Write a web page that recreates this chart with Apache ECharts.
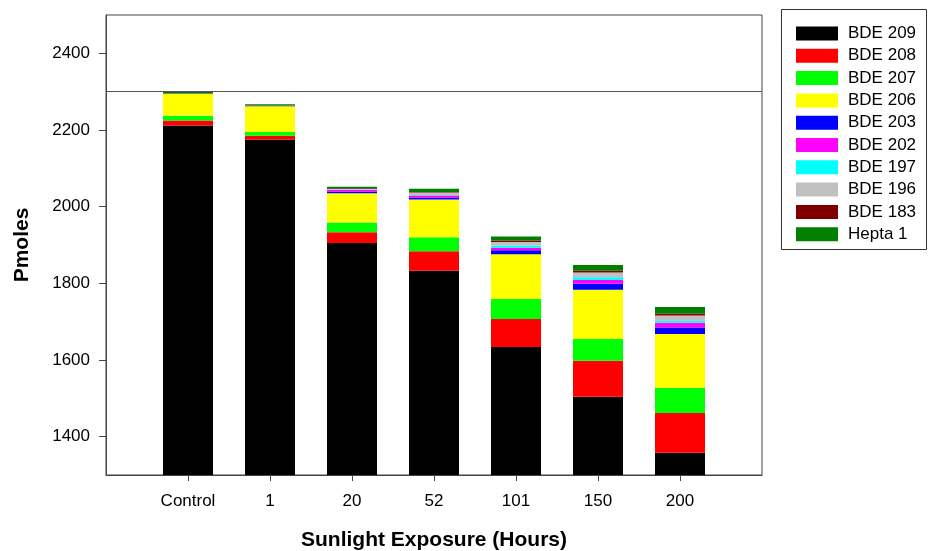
<!DOCTYPE html>
<html>
<head>
<meta charset="utf-8">
<script src="https://cdn.jsdelivr.net/npm/echarts@6/dist/echarts.min.js"></script>
<style>html,body{margin:0;padding:0;background:#fff}#c{width:928px;height:551px}</style>
</head>
<body>
<div id="c"></div>
<script>
var categories = ['Control', '1', '20', '52', '101', '150', '200'];
var bde209 = [2212, 2175, 1905, 1833, 1634, 1504, 1358];
var bde208 = [13, 10, 28, 51, 73, 94, 104];
var bde207 = [12, 10, 26, 36, 52, 57, 65];
var bde206 = [57, 67, 76, 99, 117, 128, 141];
var bde203 = [0.5, 0.5, 4.5, 5, 10, 16, 17];
var bde202 = [0.5, 0.5, 4, 5, 7, 10, 12];
var bde197 = [0, 0, 1, 1, 6, 7, 5];
var bde196 = [0.5, 0.5, 2, 7, 9, 12, 14];
var bde183 = [0.5, 0.5, 2.5, 1, 4, 5, 5];
var hepta1 = [4, 3, 3, 9, 10, 15, 17];
var seriesNames = ['BDE 209', 'BDE 208', 'BDE 207', 'BDE 206', 'BDE 203', 'BDE 202', 'BDE 197', 'BDE 196', 'BDE 183', 'Hepta 1'];
var seriesColors = ['#000000', '#ff0000', '#00ff00', '#ffff00', '#0000ff', '#ff00ff', '#00ffff', '#c0c0c0', '#800000', '#008000'];
var yTicks = [1400, 1600, 1800, 2000, 2200, 2400];
var refLine = 2300;

var seriesData = [bde209, bde208, bde207, bde206, bde203, bde202, bde197, bde196, bde183, hepta1];
var FONT = '"Liberation Sans", Arial, sans-serif';
var paddedCats = [''].concat(categories, ['']);

var series = seriesData.map(function (arr, i) {
  var s = {
    name: seriesNames[i],
    type: 'bar',
    stack: 'total',
    barWidth: 50,
    data: ['-'].concat(arr, ['-']),
    itemStyle: { color: seriesColors[i] }
  };
  if (i === seriesData.length - 1) {
    s.markLine = {
      silent: true,
      symbol: 'none',
      label: { show: false },
      lineStyle: { color: '#555', width: 1, type: 'solid' },
      data: [{ yAxis: refLine }]
    };
  }
  return s;
});

var chart = echarts.init(document.getElementById('c'));
chart.setOption({
  animation: false,
  backgroundColor: '#fff',
  grid: { left: 106, right: 166, top: 15, bottom: 76, outerBoundsMode: 'none', containLabel: false, show: true, borderColor: '#444', borderWidth: 1, backgroundColor: 'transparent' },
  graphic: [{
    type: 'rect', shape: { x: 781.5, y: 9.5, width: 145, height: 240 },
    style: { fill: 'none', stroke: '#333', lineWidth: 1 }, z: 100
  }],
  legend: {
    orient: 'vertical', left: 791, top: 20,
    itemWidth: 42, itemHeight: 14, itemGap: 5.3,
    icon: 'rect',
    data: seriesNames,
    textStyle: { fontFamily: FONT, fontSize: 17, color: '#000', padding: [0, 0, 0, 5] }
  },
  xAxis: {
    type: 'category',
    data: paddedCats,
    boundaryGap: false,
    name: 'Sunlight Exposure (Hours)',
    nameLocation: 'middle',
    nameGap: 55,
    nameTextStyle: { fontFamily: FONT, fontSize: 21, fontWeight: 'bold', color: '#000' },
    axisLine: { lineStyle: { color: '#444', width: 1 } },
    axisTick: { length: 6, lineStyle: { color: '#444' }, interval: function (idx) { return idx > 0 && idx < paddedCats.length - 1; } },
    axisLabel: { interval: 0, margin: 18, fontFamily: FONT, fontSize: 17, color: '#000' },
    splitLine: { show: false }
  },
  yAxis: {
    type: 'value',
    min: 1300, max: 2500, interval: 100,
    name: 'Pmoles',
    nameLocation: 'middle',
    nameGap: 73,
    nameTextStyle: { fontFamily: FONT, fontSize: 21, fontWeight: 'bold', color: '#000' },
    axisLine: { show: true, lineStyle: { color: '#444', width: 1 } },
    axisTick: { show: true, length: 7, lineStyle: { color: '#444' }, customValues: yTicks },
    axisLabel: { margin: 16, fontFamily: FONT, fontSize: 17, color: '#000', customValues: yTicks, formatter: function (v) { return String(v); } },
    splitLine: { show: false }
  },
  series: series
});
</script>
</body>
</html>
